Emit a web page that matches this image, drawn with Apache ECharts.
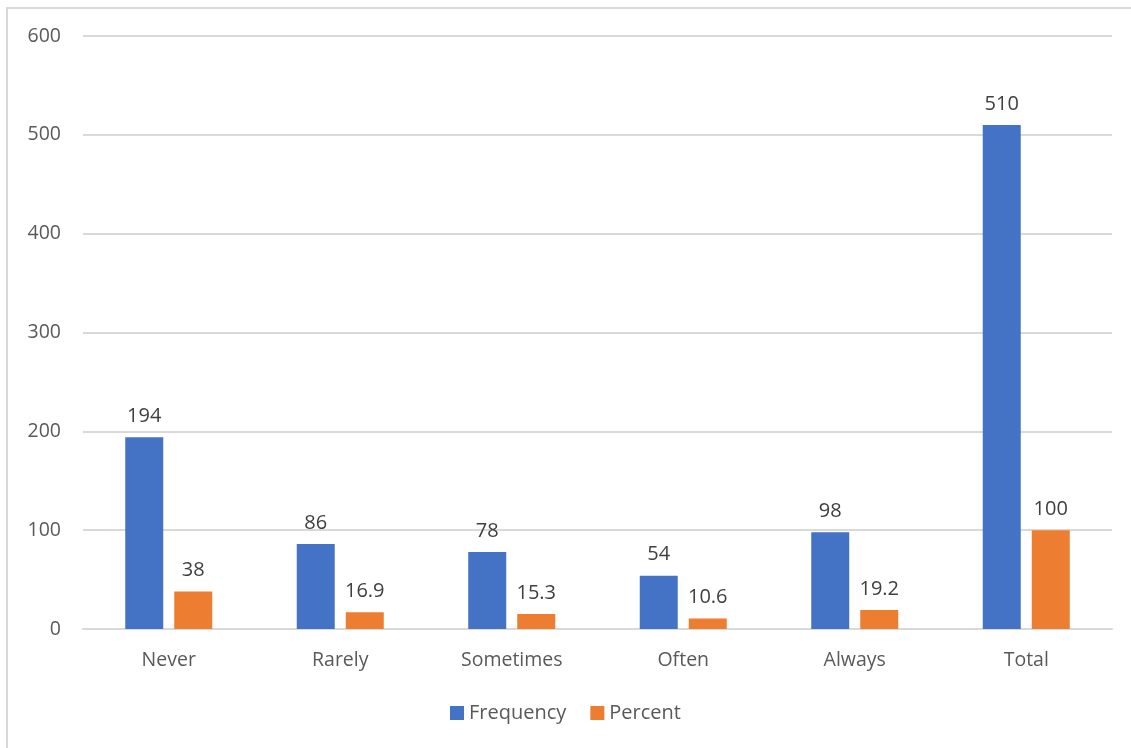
<!DOCTYPE html>
<html>
<head>
<meta charset="utf-8">
<script src="https://cdn.jsdelivr.net/npm/echarts@6/dist/echarts.min.js"></script>
<style>
  html, body { margin: 0; padding: 0; background: #fff; }
  #frame { position: absolute; left: 6px; top: 7px; width: 1140px; height: 760px; border: 2px solid #d9d9d9; }
  #chart { position: absolute; left: 0; top: 0; width: 1131px; height: 748px; }
</style>
</head>
<body>
<div id="frame"></div>
<div id="chart"></div>
<script>
// data
const categories = ['Never', 'Rarely', 'Sometimes', 'Often', 'Always', 'Total']
const frequency = [194, 86, 78, 54, 98, 510]
const percent = [38, 16.9, 15.3, 10.6, 19.2, 100]

const labelStyle = {
  show: true,
  position: 'top',
  distance: 11,
  color: '#404040',
  fontSize: 20,
  fontFamily: 'Open Sans'
}

const chart = echarts.init(document.getElementById('chart'))
chart.setOption({
  animation: false,
  grid: { left: 83, right: 19, top: 36, bottom: 119 },
  legend: {
    data: ['Frequency', 'Percent'],
    bottom: 20,
    itemWidth: 14,
    itemHeight: 14,
    itemGap: 24,
    icon: 'rect',
    textStyle: { color: '#595959', fontSize: 20, fontFamily: 'Open Sans' }
  },
  xAxis: {
    type: 'category',
    data: categories,
    axisLine: { lineStyle: { color: '#d9d9d9', width: 2 } },
    axisTick: { show: false },
    axisLabel: { color: '#595959', fontSize: 19.5, fontFamily: 'Open Sans', margin: 21 }
  },
  yAxis: {
    type: 'value',
    min: 0,
    max: 600,
    interval: 100,
    axisLine: { show: false },
    axisTick: { show: false },
    splitLine: { lineStyle: { color: '#d9d9d9', width: 2 } },
    axisLabel: { color: '#595959', fontSize: 19.5, fontFamily: 'Open Sans', margin: 22 }
  },
  series: [
    {
      name: 'Frequency',
      type: 'bar',
      data: frequency,
      barWidth: 38,
      barGap: '29%',
      itemStyle: { color: '#4472c4' },
      label: labelStyle
    },
    {
      name: 'Percent',
      type: 'bar',
      data: percent,
      barWidth: 38,
      itemStyle: { color: '#ed7d31' },
      label: labelStyle
    }
  ]
})
</script>
</body>
</html>
